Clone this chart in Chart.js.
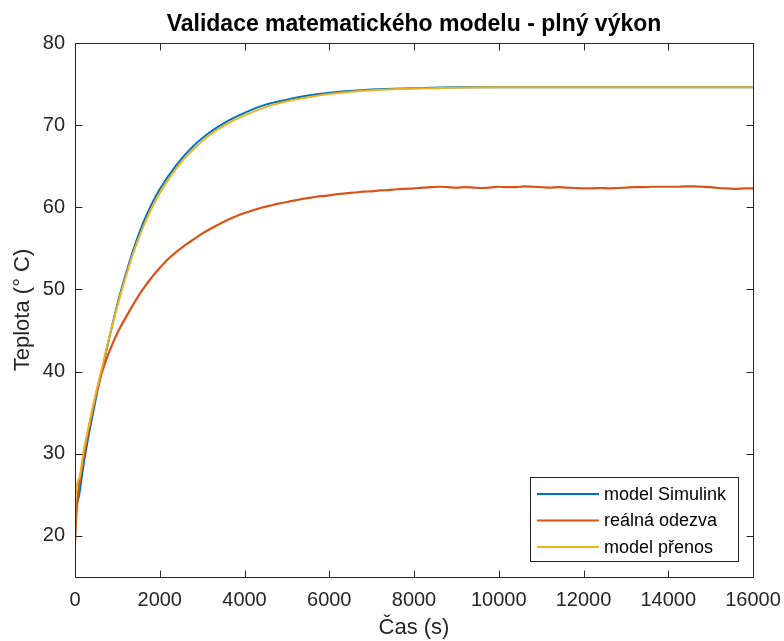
<!DOCTYPE html>
<html lang="cs">
<head>
    <meta charset="UTF-8">
    <title>Validace matematického modelu - plný výkon</title>
    <script src="https://cdn.jsdelivr.net/npm/chart.js@4"></script>
    <style>
        html, body { margin: 0; padding: 0; background: #fff; }
        #wrap { width: 784px; height: 641px; }
    </style>
</head>

<body>
    <div id="wrap"><canvas id="tempChart" width="784" height="641"></canvas></div>

    <script>
        // Tick labels
        const xTicks = [0, 2000, 4000, 6000, 8000, 10000, 12000, 14000, 16000];
        const yTicks = [20, 30, 40, 50, 60, 70, 80];

        // Model curves (time in s, temperature in deg C)
        const modelTime = [0, 10, 100, 200, 300, 400, 500, 600, 800, 1000, 1200, 1400, 1600, 1800,
            2000, 2400, 2800, 3200, 3600, 4000, 4500, 5000, 5500, 6000, 7000, 8000, 9000, 10000, 12000, 14000, 16000];
        const simulink = [19.3, 21.5, 25.0, 28.6, 31.6, 34.3, 36.9, 39.3, 43.9, 48.2, 51.9, 55.2, 58.0, 60.3,
            62.2, 65.2, 67.5, 69.2, 70.5, 71.5, 72.5, 73.1, 73.6, 73.95, 74.35, 74.5, 74.6, 74.6, 74.6, 74.6, 74.6];
        const prenos = [19.3, 24.3, 27.0, 30.2, 32.8, 35.2, 37.5, 39.7, 44.0, 48.0, 51.6, 54.8, 57.5, 59.8,
            61.7, 64.8, 67.1, 68.9, 70.2, 71.2, 72.2, 72.9, 73.4, 73.8, 74.25, 74.45, 74.55, 74.6, 74.6, 74.6, 74.6];

        // Measured response
        const realTime = [0, 20, 60, 120, 200, 300, 400, 500, 600, 800, 1000, 1200, 1400, 1600, 1800, 2000,
            2200, 2400, 2600, 2800, 3000, 3200, 3400, 3600, 3800, 4000, 4200, 4400, 4600, 4800, 5000,
            5200, 5400, 5600, 5800, 6000, 6200, 6400, 6600, 6800, 7000, 7200, 7400, 7600, 7800, 8000,
            8200, 8400, 8600, 8800, 9000, 9200, 9400, 9600, 9800, 10000, 10200, 10400, 10600, 10800, 11000,
            11200, 11400, 11600, 11800, 12000, 12200, 12400, 12600, 12800, 13000, 13200, 13400, 13600, 13800,
            14000, 14200, 14400, 14600, 14800, 15000, 15200, 15400, 15600, 15800, 16000];
        const realna = [19.2, 21.5, 24.5, 27.0, 29.5, 32.3, 35.0, 37.3, 39.3, 42.3, 44.7, 46.6, 48.4, 50.0, 51.4, 52.6,
            53.7, 54.6, 55.4, 56.1, 56.8, 57.4, 57.95, 58.45, 58.9, 59.3, 59.65, 59.95, 60.2, 60.45, 60.65,
            60.85, 61.05, 61.2, 61.35, 61.45, 61.6, 61.7, 61.8, 61.9, 61.95, 62.05, 62.1, 62.2, 62.25, 62.3,
            62.4, 62.45, 62.5, 62.45, 62.4, 62.45, 62.4, 62.35, 62.4, 62.5, 62.45, 62.45, 62.55, 62.5, 62.45,
            62.4, 62.45, 62.4, 62.35, 62.3, 62.3, 62.35, 62.3, 62.35, 62.4, 62.45, 62.45, 62.5, 62.5,
            62.5, 62.5, 62.55, 62.55, 62.5, 62.45, 62.35, 62.3, 62.25, 62.3, 62.3];

        const seriesLabels = ['model Simulink', 'reálná odezva', 'model přenos'];
        const seriesColors = ['#0072BD', '#D95319', '#EDB120'];

        const axisColor = '#262626';
        const FONT = '"Liberation Sans", Arial, Helvetica, sans-serif';

        function toPoints(xs, ys) {
            return xs.map((x, i) => ({ x: x, y: ys[i] }));
        }

        // Box, inward ticks, title and legend, MATLAB style
        const matlabFrame = {
            id: 'matlabFrame',
            afterDraw(chart) {
                const c = chart.ctx;
                const a = chart.chartArea;
                const xs = chart.scales.x, ys = chart.scales.y;
                const L = Math.round(a.left) + 0.5, R = Math.round(a.right) + 0.5;
                const T = Math.round(a.top) + 0.5, B = Math.round(a.bottom) + 0.5;
                const tl = 7;

                c.save();
                c.strokeStyle = axisColor;
                c.lineWidth = 1;
                c.strokeRect(L, T, R - L, B - T);
                c.beginPath();
                xTicks.forEach(v => {
                    const px = Math.round(xs.getPixelForValue(v)) + 0.5;
                    c.moveTo(px, B); c.lineTo(px, B - tl);
                    c.moveTo(px, T); c.lineTo(px, T + tl);
                });
                yTicks.forEach(v => {
                    const py = Math.round(ys.getPixelForValue(v)) + 0.5;
                    c.moveTo(L, py); c.lineTo(L + tl, py);
                    c.moveTo(R, py); c.lineTo(R - tl, py);
                });
                c.stroke();

                // title
                c.fillStyle = '#000';
                c.font = 'bold 23px ' + FONT;
                c.textAlign = 'center';
                c.textBaseline = 'middle';
                c.fillText('Validace matematického modelu - plný výkon', (a.left + a.right) / 2, 25);

                // legend
                const lx = 530.5, ly = 477.5, lw = 208, lh = 84;
                c.fillStyle = '#fff';
                c.fillRect(lx, ly, lw, lh);
                c.strokeStyle = axisColor;
                c.strokeRect(lx, ly, lw, lh);
                c.font = '18px ' + FONT;
                c.textAlign = 'left';
                const rows = [494, 520.5, 547];
                seriesLabels.forEach((lab, i) => {
                    c.strokeStyle = seriesColors[i];
                    c.lineWidth = 2;
                    c.beginPath();
                    c.moveTo(537, rows[i]); c.lineTo(599, rows[i]);
                    c.stroke();
                    c.fillStyle = '#000';
                    c.fillText(lab, 604, rows[i] + 1);
                });
                c.restore();
            }
        };

        const ctx = document.getElementById('tempChart').getContext('2d');
        const tempChart = new Chart(ctx, {
            type: 'line',
            data: {
                datasets: [
                    {
                        label: seriesLabels[0],
                        data: toPoints(modelTime, simulink),
                        borderColor: seriesColors[0],
                        borderWidth: 2,
                        order: 3
                    },
                    {
                        label: seriesLabels[1],
                        data: toPoints(realTime, realna),
                        borderColor: seriesColors[1],
                        borderWidth: 2.2,
                        order: 2
                    },
                    {
                        label: seriesLabels[2],
                        data: toPoints(modelTime, prenos),
                        borderColor: seriesColors[2],
                        borderWidth: 2,
                        order: 1
                    }
                ]
            },
            options: {
                responsive: false,
                animation: false,
                events: [],
                elements: {
                    point: { radius: 0 },
                    line: { cubicInterpolationMode: 'monotone', fill: false }
                },
                layout: { padding: { top: 43, right: 31, left: 0, bottom: 0 } },
                plugins: {
                    legend: { display: false },
                    title: { display: false },
                    tooltip: { enabled: false }
                },
                scales: {
                    x: {
                        type: 'linear',
                        min: 0,
                        max: 16000,
                        grid: { display: false, drawTicks: false },
                        border: { display: false },
                        afterBuildTicks: s => { s.ticks = xTicks.map(v => ({ value: v })); },
                        afterFit: s => { s.height = 64; s.paddingLeft = 0; s.paddingRight = 0; },
                        ticks: {
                            color: axisColor,
                            font: { family: FONT, size: 20 },
                            padding: 11,
                            maxRotation: 0,
                            callback: v => String(v)
                        },
                        title: {
                            display: true,
                            text: 'Čas (s)',
                            color: axisColor,
                            font: { family: FONT, size: 22 },
                            padding: { top: 0, bottom: 0 }
                        }
                    },
                    y: {
                        type: 'linear',
                        min: 15,
                        max: 80,
                        grid: { display: false, drawTicks: false },
                        border: { display: false },
                        afterBuildTicks: s => { s.ticks = yTicks.map(v => ({ value: v })); },
                        afterFit: s => { s.width = 75; s.paddingTop = 0; s.paddingBottom = 0; },
                        ticks: {
                            color: axisColor,
                            font: { family: FONT, size: 20 },
                            padding: 10
                        },
                        title: {
                            display: true,
                            text: 'Teplota (° C)',
                            color: axisColor,
                            font: { family: FONT, size: 22 },
                            padding: { top: 10, bottom: 0 }
                        }
                    }
                }
            },
            plugins: [matlabFrame]
        });
    </script>
</body>
</html>
